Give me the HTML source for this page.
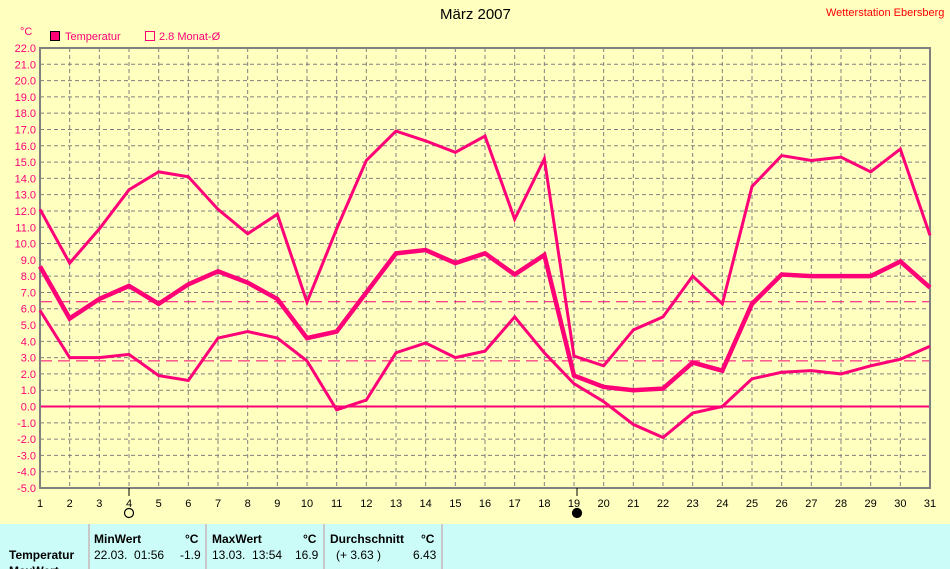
<!DOCTYPE html>
<html><head><meta charset="utf-8"><style>
body{margin:0;width:950px;height:569px;overflow:hidden;background:#ffffc0;font-family:"Liberation Sans",sans-serif;position:relative}
.t{position:absolute;white-space:nowrap}
#tbl{position:absolute;left:0;top:524px;width:950px;height:45px;background:#ccfcf8;font-size:12px;overflow:hidden}
.col{position:absolute;top:0;height:45px;border-left:2px solid #c8c8c8}
.b{font-weight:bold}
</style></head><body>
<div class="t" style="left:440px;top:6px;font-size:15px">März 2007</div>
<div class="t" style="left:826px;top:7px;font-size:11px;color:#f00">Wetterstation Ebersberg</div>
<div class="t" style="left:20px;top:26px;font-size:11px;color:#f07">°C</div>
<div class="t" style="left:50px;top:31px;font-size:11px;color:#f07"><span style="display:inline-block;width:8px;height:8px;background:#f07;border:1px solid #000;vertical-align:-1px;margin-right:5px"></span>Temperatur</div>
<div class="t" style="left:145px;top:31px;font-size:11px;color:#f07"><span style="display:inline-block;width:8px;height:8px;border:1px solid #f07;vertical-align:-1px;margin-right:4px"></span>2.8 Monat-Ø</div>
<svg id="chart" width="950" height="524" style="position:absolute;left:0;top:0"></svg>
<div id="tbl">
<div class="col" style="left:88px"></div><div class="col" style="left:205px"></div><div class="col" style="left:323px"></div><div class="col" style="left:441px"></div>
<div class="t b" style="left:9px;top:24px">Temperatur</div>
<div class="t b" style="left:9px;top:40px">MaxWert</div>
<div class="t b" style="left:94px;top:8px">MinWert</div>
<div class="t b" style="left:185px;top:8px">°C</div>
<div class="t" style="left:94px;top:24px">22.03.&nbsp; 01:56</div>
<div class="t" style="left:180px;top:24px">-1.9</div>
<div class="t b" style="left:212px;top:8px">MaxWert</div>
<div class="t b" style="left:303px;top:8px">°C</div>
<div class="t" style="left:212px;top:24px">13.03.&nbsp; 13:54</div>
<div class="t" style="left:295px;top:24px">16.9</div>
<div class="t b" style="left:330px;top:8px">Durchschnitt</div>
<div class="t b" style="left:421px;top:8px">°C</div>
<div class="t" style="left:336px;top:24px">(+ 3.63 )</div>
<div class="t" style="left:413px;top:24px">6.43</div>
</div>
<script>
const days=[1,2,3,4,5,6,7,8,9,10,11,12,13,14,15,16,17,18,19,20,21,22,23,24,25,26,27,28,29,30,31];
const maxT=[12.1,8.8,10.9,13.3,14.4,14.1,12.1,10.6,11.8,6.4,10.9,15.1,16.9,16.3,15.6,16.6,11.5,15.2,3.1,2.5,4.7,5.5,8.0,6.3,13.5,15.4,15.1,15.3,14.4,15.8,10.5];
const avgT=[8.6,5.4,6.6,7.4,6.3,7.5,8.3,7.6,6.6,4.2,4.6,7.0,9.4,9.6,8.8,9.4,8.1,9.3,1.9,1.2,1.0,1.1,2.7,2.2,6.3,8.1,8.0,8.0,8.0,8.9,7.3];
const minT=[5.9,3.0,3.0,3.2,1.9,1.6,4.2,4.6,4.2,2.8,-0.2,0.4,3.3,3.9,3.0,3.4,5.5,3.3,1.4,0.3,-1.1,-1.9,-0.4,0.0,1.7,2.1,2.2,2.0,2.5,2.9,3.7];
const yTicks=[22,21,20,19,18,17,16,15,14,13,12,11,10,9,8,7,6,5,4,3,2,1,0,-1,-2,-3,-4,-5];
const refLines=[6.43,2.8];
const moonDays=[4,19];
const svg=document.getElementById('chart');const NS='http://www.w3.org/2000/svg';
const L=40,R=930,T=48,B=488;
const x=d=>L+(d-1)*(R-L)/30;
const y=v=>T+(22-v)*(B-T)/27;
function mk(tag,attrs){const e=document.createElementNS(NS,tag);for(const k in attrs)e.setAttribute(k,attrs[k]);svg.appendChild(e);return e;}
yTicks.forEach(v=>{
  const l=mk('line',{x1:L,x2:R,y1:y(v),y2:y(v),stroke:'#808080','stroke-dasharray':'4,3'});
  
  
  const t=mk('text',{x:36,y:y(v)+4,'text-anchor':'end','font-size':'11','fill':'#f07','font-family':'Liberation Sans, sans-serif'});
  t.textContent=v.toFixed(1);
  
  
});
days.forEach(d=>{
  const l=mk('line',{x1:x(d),x2:x(d),y1:T,y2:B,stroke:'#808080','stroke-dasharray':'4,3'});
  
  
  const t=mk('text',{x:x(d),y:507,'text-anchor':'middle','font-size':'11','fill':'#000','font-family':'Liberation Sans, sans-serif'});
  t.textContent=d;
  
  
});
refLines.forEach(v=>{
  const l=mk('line',{x1:L,x2:R,y1:y(v),y2:y(v),stroke:'#f07','stroke-width':1,'stroke-dasharray':'12,6'});
  
  
});
const z=mk('line',{x1:L,x2:R,y1:y(0),y2:y(0),stroke:'#f07','stroke-width':2});


const ax=mk('path',{d:`M${L},${T}H${R}V${B}H${L}Z`,fill:'none',stroke:'#808080','stroke-width':2});


function series(arr,w,name){
  const p=mk('polyline',{points:arr.map((v,i)=>x(days[i])+','+y(v)).join(' '),fill:'none',stroke:'#f07','stroke-width':w,'stroke-linejoin':'miter'});
  
  
}
series(maxT,3,'series-max');
series(minT,3,'series-min');
series(avgT,4.5,'series-average');
moonDays.forEach((d,i)=>{
  const cx=x(d)+(i?3:0);
  const l=mk('line',{x1:cx,x2:cx,y1:B,y2:B+8,stroke:'#000'});
  
  
  const c=mk('circle',{cx:cx,cy:513,r:4.5,fill:i?'#000':'none',stroke:'#000','stroke-width':1.2});
  
  
});
</script>
</body></html>
